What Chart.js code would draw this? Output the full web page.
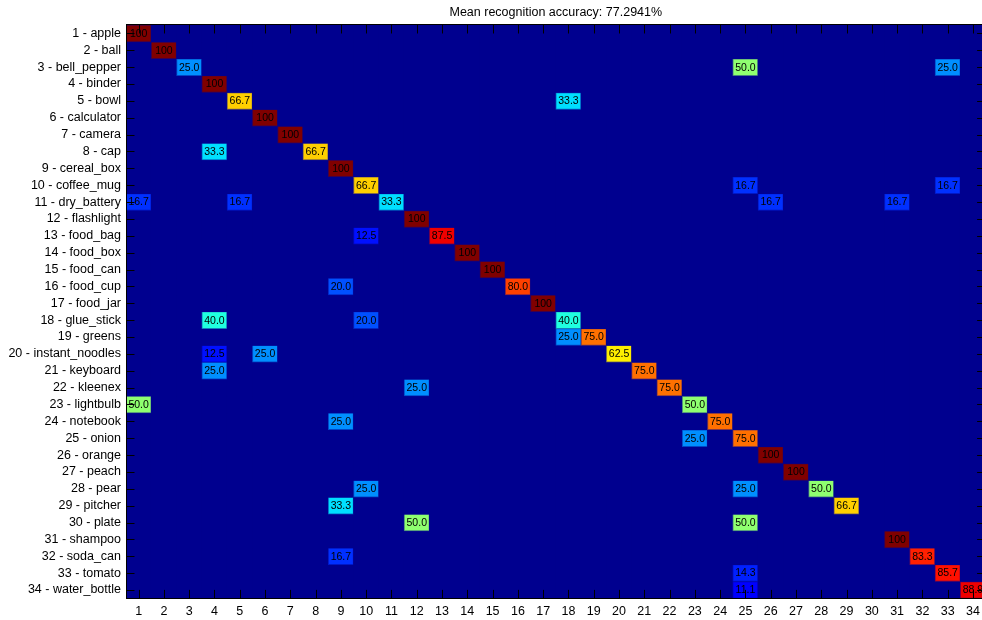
<!DOCTYPE html>
<html>
<head>
<meta charset="utf-8">
<title>Confusion matrix</title>
<script src="https://cdn.jsdelivr.net/npm/chart.js@4/dist/chart.umd.min.js"></script>
<style>
  html, body { margin: 0; padding: 0; background: #fff; overflow: hidden; }
  #wrap { position: absolute; left: 0; top: 0; width: 990px; height: 620px; }
</style>
</head>
<body>
<div id="wrap"><canvas id="cm"></canvas></div>
<script>
// Object classes (rows = true class, columns = predicted class)
const classNames = [
  'apple', 'ball', 'bell_pepper', 'binder', 'bowl', 'calculator', 'camera', 'cap',
  'cereal_box', 'coffee_mug', 'dry_battery', 'flashlight', 'food_bag', 'food_box',
  'food_can', 'food_cup', 'food_jar', 'glue_stick', 'greens', 'instant_noodles',
  'keyboard', 'kleenex', 'lightbulb', 'notebook', 'onion', 'orange', 'peach', 'pear',
  'pitcher', 'plate', 'shampoo', 'soda_can', 'tomato', 'water_bottle'
];
const predictedLabels = classNames.map((_, i) => String(i + 1));

// Non-zero entries of the confusion matrix, in percent of each true class
const trueClass = [
  1, 2, 3, 3, 3, 4, 5, 5, 6, 7,
  8, 8, 9, 10, 10, 10, 11, 11, 11, 11, 11,
  12, 13, 13, 14, 15, 16, 16, 17, 18, 18, 18,
  19, 19, 20, 20, 20, 21, 21, 22, 22, 23, 23,
  24, 24, 25, 25, 26, 27, 28, 28, 28, 29, 29,
  30, 30, 31, 32, 32, 33, 33, 34, 34
];
const predClass = [
  1, 2, 3, 25, 33, 4, 5, 18, 6, 7,
  4, 8, 9, 10, 25, 33, 1, 5, 11, 26, 31,
  12, 10, 13, 14, 15, 9, 16, 17, 4, 10, 18,
  18, 19, 4, 6, 20, 4, 21, 12, 22, 1, 23,
  9, 24, 23, 25, 26, 27, 10, 25, 28, 9, 29,
  12, 25, 31, 9, 32, 25, 33, 25, 34
];
const percent = [
  100, 100, 25.0, 50.0, 25.0, 100, 66.7, 33.3, 100, 100,
  33.3, 66.7, 100, 66.7, 16.7, 16.7, 16.7, 16.7, 33.3, 16.7, 16.7,
  100, 12.5, 87.5, 100, 100, 20.0, 80.0, 100, 40.0, 20.0, 40.0,
  25.0, 75.0, 12.5, 25.0, 62.5, 25.0, 75.0, 25.0, 75.0, 50.0, 50.0,
  25.0, 75.0, 25.0, 75.0, 100, 100, 25.0, 25.0, 50.0, 33.3, 66.7,
  50.0, 50.0, 100, 16.7, 83.3, 14.3, 85.7, 11.1, 88.9
];

const N = classNames.length;
const matrix = Array.from({ length: N }, () => new Array(N).fill(0));
trueClass.forEach((t, i) => { matrix[t - 1][predClass[i] - 1] = percent[i]; });

// Mean of the diagonal = mean per-class recognition accuracy
const meanAccuracy = matrix.reduce((s, row, i) => s + row[i], 0) / N;

// 64-level "jet" colour map over 0..100 %
function jet(v) {
  const m = 64;
  const k = Math.min(m, Math.floor(v / 100 * m) + 1);
  const u = j => (j < 1 || j > 47) ? 0 : (j <= 16 ? j / 16 : (j <= 31 ? 1 : (48 - j) / 16));
  return [u(k - 24), u(k - 8), u(k + 8)].map(c => Math.round(c * 255));
}
const rgb = c => `rgb(${c[0]},${c[1]},${c[2]})`;
const mix = (a, b) => a.map((x, i) => Math.round((x + b[i]) / 2));
const base = jet(0);

const FONT = "'Liberation Sans', Arial, Helvetica, sans-serif";

// One dataset per true class: a row of floating bars spanning one cell each
const datasets = matrix.map((row, r) => ({
  label: classNames[r],
  data: row.map(() => [r + 0.5, r + 1.5]),
  backgroundColor: row.map(v => rgb(jet(v))),
  borderColor: row.map(v => rgb(mix(jet(v), base))),
  borderWidth: row.map(v => (v > 0 ? 1 : 0)),
  borderSkipped: false,
  grouped: false,
  barPercentage: 1,
  categoryPercentage: 1
}));

// Plot background in the colour of an empty cell
const axesBackground = {
  id: 'axesBackground',
  beforeDatasetsDraw(chart) {
    const { ctx, chartArea: a } = chart;
    ctx.save();
    ctx.fillStyle = rgb(base);
    ctx.fillRect(a.left, a.top, a.right - a.left, a.bottom - a.top);
    ctx.restore();
  }
};

// Box around the axes with inward tick marks on all four sides
const axesFrame = {
  id: 'axesFrame',
  afterDatasetsDraw(chart) {
    const { ctx, chartArea: a, scales } = chart;
    const len = 8.5;
    ctx.save();
    ctx.strokeStyle = '#000';
    ctx.lineWidth = 1;
    ctx.beginPath();
    scales.x.ticks.forEach((t, i) => {
      const x = Math.round(scales.x.getPixelForTick(i)) + 0.5;
      ctx.moveTo(x, a.top); ctx.lineTo(x, a.top + len);
      ctx.moveTo(x, a.bottom); ctx.lineTo(x, a.bottom - len);
    });
    scales.y.ticks.forEach((t, i) => {
      const y = Math.round(scales.y.getPixelForTick(i)) + 0.5;
      ctx.moveTo(a.left, y); ctx.lineTo(a.left + len, y);
      ctx.moveTo(a.right, y); ctx.lineTo(a.right - len, y);
    });
    ctx.stroke();
    ctx.strokeRect(Math.round(a.left) + 0.5, Math.round(a.top) - 0.5,
                   Math.round(a.right - a.left), Math.round(a.bottom - a.top) + 1);
    ctx.restore();
  }
};

// Percent value written in every non-zero cell
const cellValues = {
  id: 'cellValues',
  afterDatasetsDraw(chart) {
    const { ctx, scales } = chart;
    ctx.save();
    ctx.fillStyle = '#000';
    ctx.font = `10.5px ${FONT}`;
    ctx.textAlign = 'center';
    ctx.textBaseline = 'middle';
    matrix.forEach((row, r) => row.forEach((v, c) => {
      if (v <= 0) return;
      const txt = v >= 100 ? '100' : v.toFixed(1);
      ctx.fillText(txt, scales.x.getPixelForValue(c), scales.y.getPixelForValue(r + 1) + 0.5);
    }));
    ctx.restore();
  }
};

new Chart(document.getElementById('cm'), {
  type: 'bar',
  data: { labels: predictedLabels, datasets },
  plugins: [axesBackground, axesFrame, cellValues],
  options: {
    responsive: true,
    maintainAspectRatio: false,
    animation: false,
    events: [],
    layout: { padding: { left: 0, right: 4.4, top: 0, bottom: 0 } },
    plugins: {
      legend: { display: false },
      tooltip: { enabled: false },
      title: {
        display: true,
        fullSize: false,
        text: `Mean recognition accuracy: ${meanAccuracy.toFixed(4)}%`,
        color: '#000',
        font: { family: FONT, size: 12.5, weight: 'normal', lineHeight: 1.2 },
        padding: { top: 5, bottom: 5 }
      }
    },
    scales: {
      x: {
        type: 'category',
        offset: true,
        grid: { display: false, drawTicks: false },
        border: { display: false },
        ticks: {
          color: '#000', padding: 6, autoSkip: false, maxRotation: 0,
          font: { family: FONT, size: 12.5 }
        },
        afterFit: s => { s.height = 21.6; }
      },
      y: {
        type: 'linear',
        reverse: true,
        min: 0.5,
        max: N + 0.5,
        afterBuildTicks: s => { s.ticks = classNames.map((_, i) => ({ value: i + 1 })); },
        grid: { display: false, drawTicks: false },
        border: { display: false },
        ticks: {
          color: '#000', padding: 5, autoSkip: false,
          font: { family: FONT, size: 12.5 },
          callback: v => `${v} - ${classNames[v - 1]}`
        },
        afterFit: s => { s.width = 126; }
      }
    }
  }
});
</script>
</body>
</html>
